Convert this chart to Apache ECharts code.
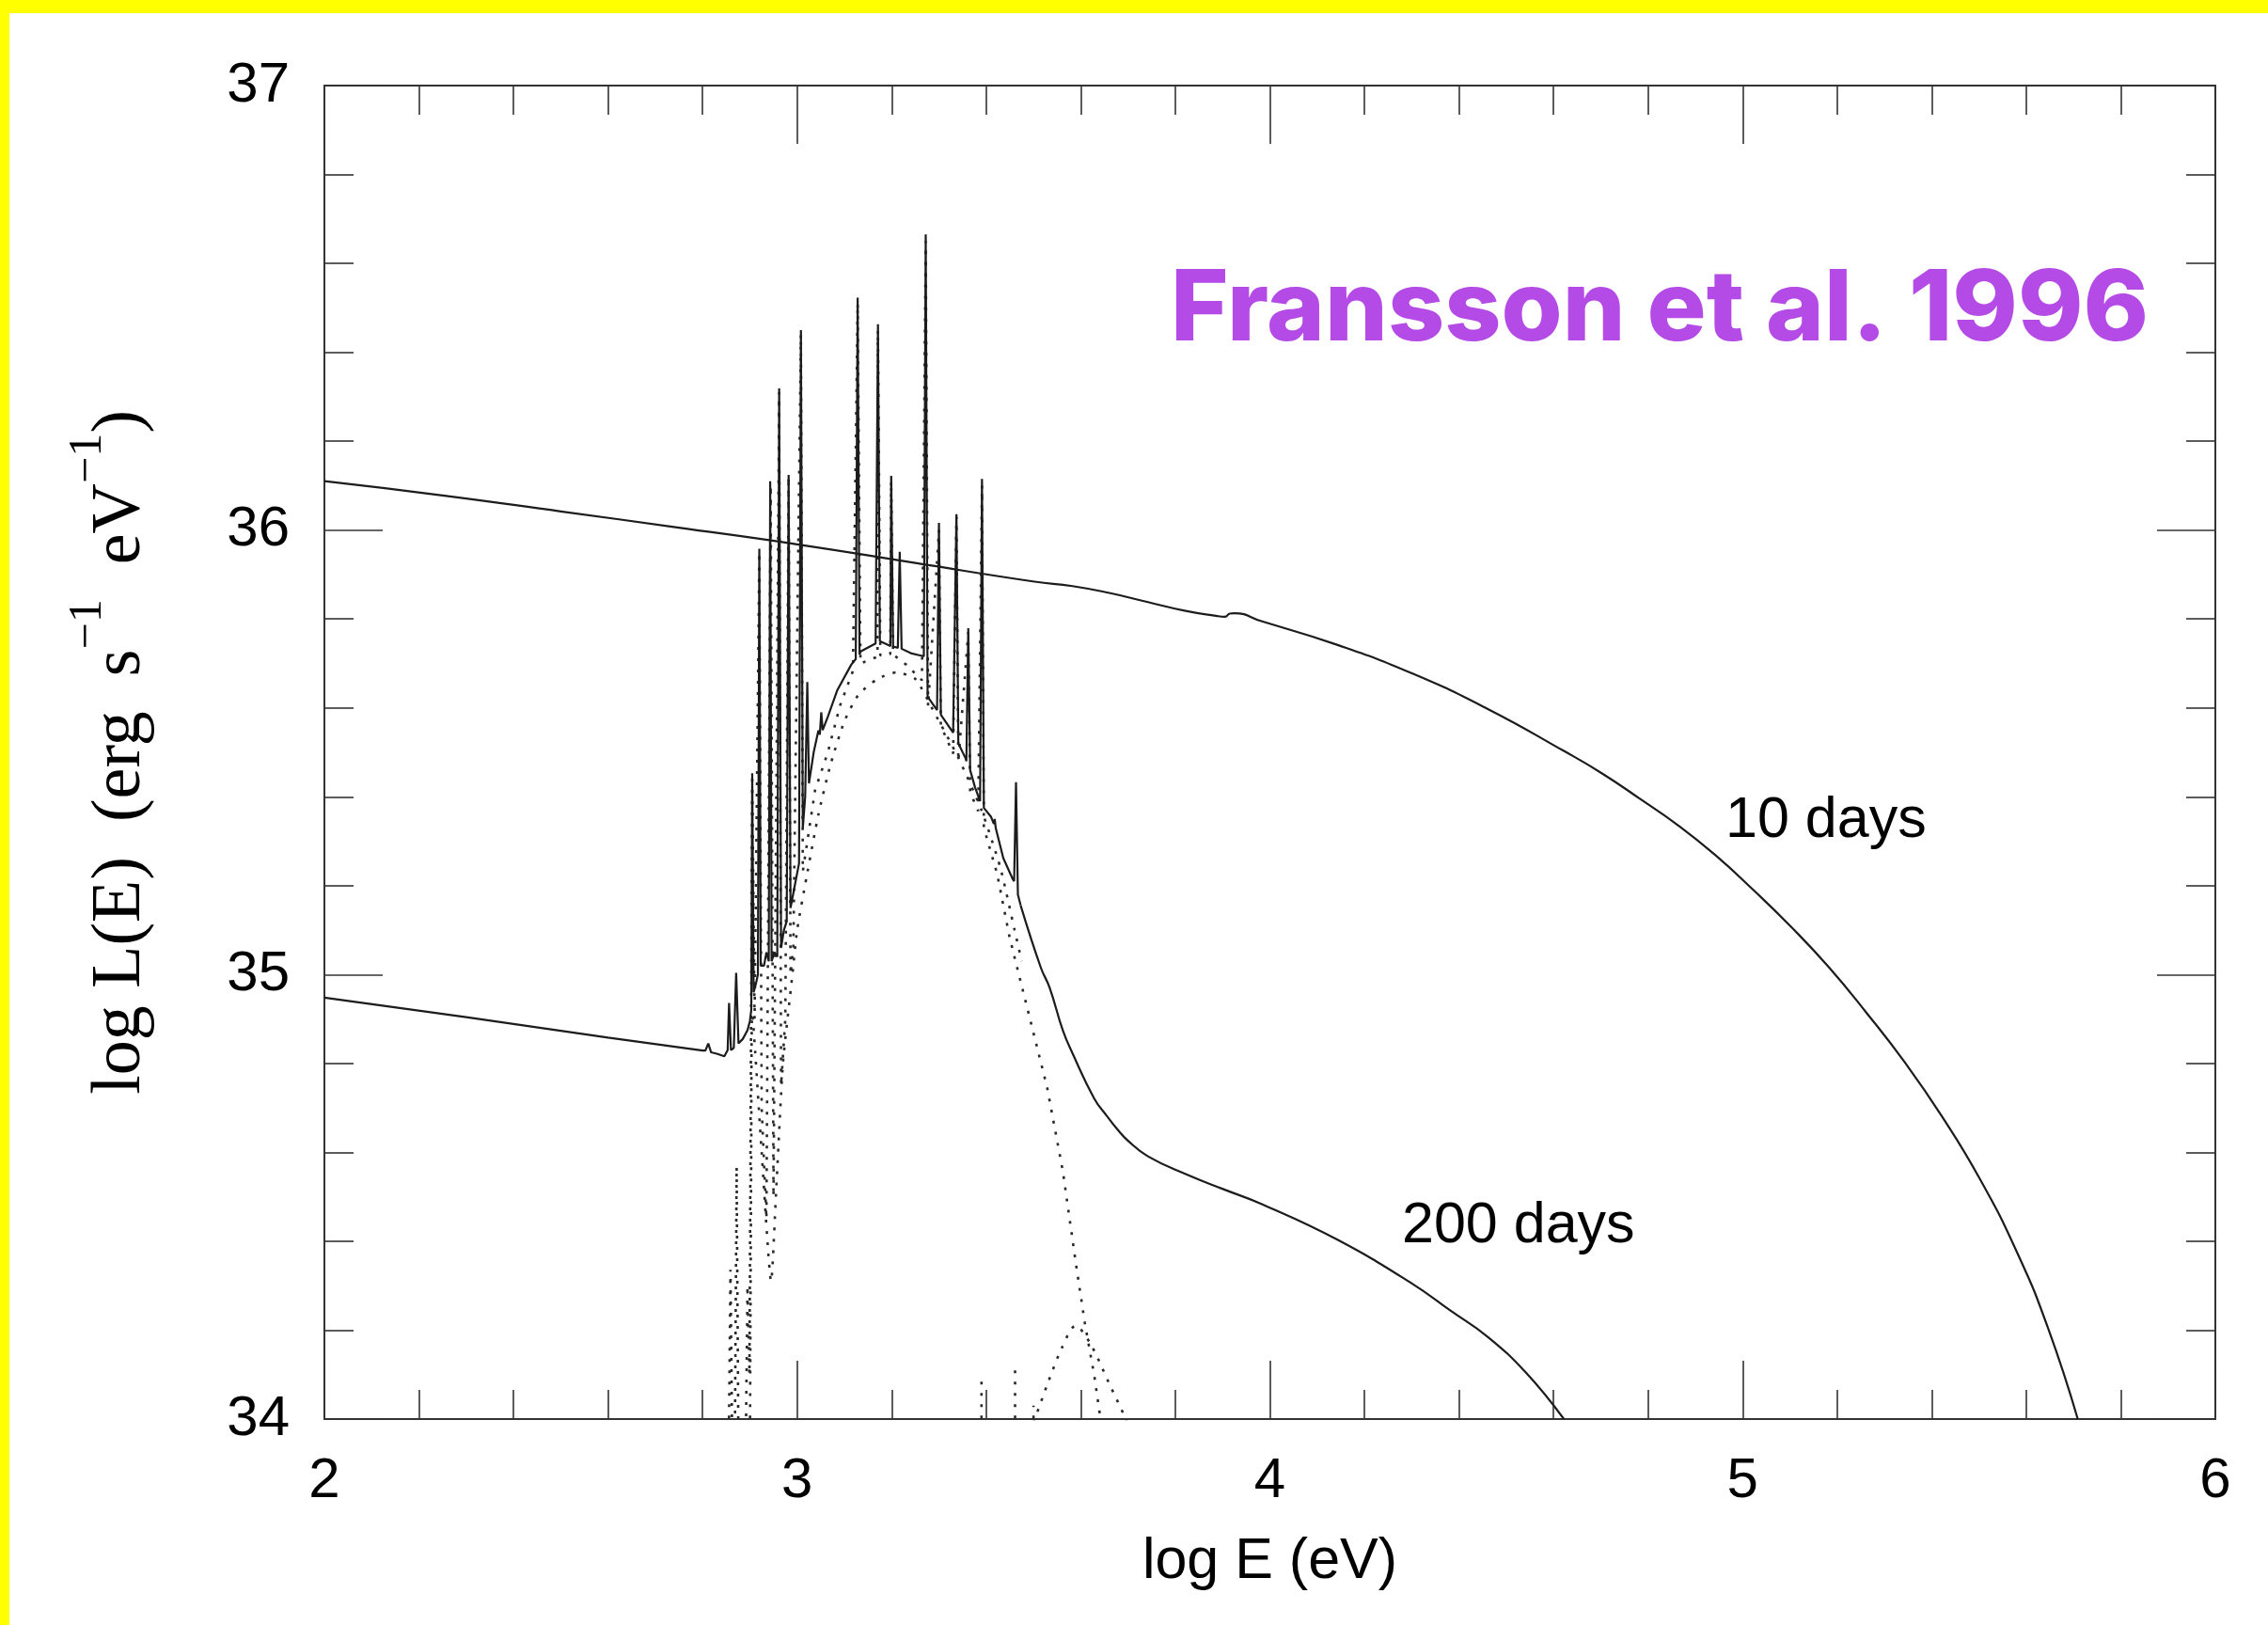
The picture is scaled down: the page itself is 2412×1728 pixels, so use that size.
<!DOCTYPE html>
<html>
<head>
<meta charset="utf-8">
<script src="https://cdn.jsdelivr.net/npm/echarts@6/dist/echarts.min.js"></script>
<style>
html,body{margin:0;padding:0;background:#fff;}
#c{width:2412px;height:1728px;}
</style>
</head>
<body>
<div id="c"></div>
<script>
// ---- axis ranges / tick labels ----
const xRange = [2, 6];
const yRange = [34, 37];
const xTickLabels = ['2', '3', '4', '5', '6'];
const yTickLabels = ['34', '35', '36', '37'];

// ---- texts ----
const titleText = 'Fransson et al. 1996';
const curveLabels = ['10 days', '200 days'];

// ---- 10 days spectrum (solid) ----
const days10 = [
  [2.0,36.11],[2.25,36.078],[2.5,36.042],[2.746,36.006],[3.0,35.968],[3.25,35.926],
  [3.502,35.884],[3.5825,35.874],[3.6625,35.858],[3.742,35.838],[3.822,35.818],
  [3.886,35.807],[3.905,35.805],[3.915,35.812],[3.925,35.813],[3.982,35.795],
  [4.142,35.742],[4.302,35.677],[4.462,35.597],[4.622,35.503],[4.702,35.453],
  [4.782,35.396],[4.862,35.337],[4.942,35.269],[5.022,35.191],[5.102,35.108],
  [5.182,35.017],[5.262,34.914],[5.342,34.804],[5.421,34.682],[5.502,34.54],
  [5.581,34.374],[5.646,34.205],[5.709,34.0]
];

// ---- 200 days spectrum (solid, with emission lines) ----
const days200 = [
  [2.0,34.948],[2.3,34.904],[2.6,34.858],[2.80,34.829],[2.806,34.829],[2.812,34.845],[2.818,34.825],
  [2.83,34.822],[2.846,34.816],
  [2.853,34.83],[2.856,34.936],[2.860,34.83],
  [2.866,34.835],[2.871,35.004],[2.876,34.845],
  [2.885,34.855],[2.895,34.875],[2.900,34.895],
  [2.903,34.92],[2.905,35.453],[2.908,34.96],
  [2.913,34.98],[2.917,35.0],[2.920,35.958],[2.923,35.02],
  [2.93,35.02],[2.935,35.05],[2.940,35.03],[2.943,36.110],[2.946,35.03],
  [2.952,35.05],[2.958,35.04],[2.962,36.319],[2.966,35.06],
  [2.972,35.10],[2.978,35.12],[2.982,36.124],[2.986,35.15],
  [2.995,35.20],[3.004,35.25],[3.008,36.450],[3.012,35.33],
  [3.017,35.40],[3.0215,35.658],[3.025,35.43],
  [3.035,35.50],[3.045,35.549],[3.048,35.54],[3.051,35.59],[3.054,35.55],[3.065,35.58],
  [3.0846,35.639],[3.1144,35.697],[3.124,35.71],[3.128,36.523],[3.132,35.72],[3.1343,35.727],
  [3.166,35.745],[3.171,36.463],[3.175,35.75],[3.1973,35.739],[3.199,36.122],[3.203,35.738],
  [3.213,35.735],[3.217,35.951],[3.221,35.733],[3.2404,35.723],[3.2603,35.718],[3.268,35.716],
  [3.272,36.665],[3.276,35.625],[3.277,35.621],
  [3.296,35.595],[3.300,36.016],[3.304,35.585],[3.3068,35.58],[3.33,35.544],[3.333,35.54],
  [3.337,36.036],[3.341,35.52],[3.3565,35.486],[3.358,35.48],[3.362,35.779],[3.366,35.46],
  [3.3764,35.421],[3.387,35.39],[3.391,36.115],[3.395,35.375],[3.3963,35.374],[3.41,35.355],
  [3.4162,35.339],[3.418,35.35],[3.42,35.33],[3.4361,35.262],[3.456,35.215],[3.459,35.21],
  [3.463,35.433],[3.467,35.18],[3.4727,35.156],[3.5157,35.015],[3.534,34.971],[3.5622,34.874],
  [3.582,34.824],[3.6285,34.721],[3.655,34.682],[3.678,34.651],[3.70,34.626],[3.742,34.591],
  [3.822,34.551],[3.902,34.517],[3.982,34.484],[4.142,34.404],[4.302,34.304],[4.382,34.244],
  [4.462,34.184],[4.542,34.104],[4.622,34.0]
];
// x where the 200-day continuum becomes a smooth line (no more lines)
const smoothFrom200 = 3.4727;

// ---- dotted components ----
const dotA = [
  [2.855,33.9],[2.859,34.336],[2.863,33.9],
  [2.868,33.9],[2.872,34.568],[2.876,33.9],
  [2.891,33.9],[2.895,34.30],[2.899,34.1],[2.905,35.45],[2.91,34.9],[2.92,35.95],[2.925,34.7],
  [2.935,34.45],[2.944,36.10],[2.95,34.5],[2.962,36.31],[2.966,34.75],[2.975,34.90],
  [2.982,36.12],[2.986,35.0],[2.992,35.063],[3.008,36.44],[3.012,35.232],[3.038,35.415],
  [3.065,35.5],[3.091,35.606],[3.118,35.683],[3.128,36.51],[3.134,35.70],[3.17,35.715],
  [3.171,36.45],[3.176,35.718],[3.197,35.721],[3.199,36.11],[3.203,35.72],[3.231,35.697],
  [3.264,35.662],[3.272,36.65],[3.277,35.603],[3.300,36.0],[3.304,35.56],[3.330,35.497],
  [3.337,36.03],[3.341,35.48],[3.362,35.77],[3.366,35.41],[3.383,35.368],[3.391,36.10],
  [3.395,35.33],[3.423,35.227],[3.449,35.086],[3.4627,35.027],[3.4959,34.886],[3.529,34.745],
  [3.5622,34.557],[3.5887,34.357],[3.6086,34.216],[3.6285,34.098],[3.6418,34.0],[3.65,33.9]
];
const dotB = [
  [2.90,33.9],[2.903,34.6],[2.905,34.91],[2.925,34.6],[2.945,34.31],[2.955,34.5],[2.97,34.8],
  [2.99,35.0],[3.0,35.1],[3.02,35.22],[3.045,35.36],[3.07,35.47],[3.10,35.57],[3.13,35.63],
  [3.17,35.665],[3.21,35.68],[3.25,35.665],[3.29,35.59],[3.34,35.49],[3.39,35.37],
  [3.43,35.24],[3.46,35.10],[3.475,35.03]
];
const dotC = [
  [3.49,33.97],[3.5025,34.0],[3.53,34.08],[3.56,34.16],[3.589,34.21],[3.62,34.17],
  [3.66,34.08],[3.695,34.0],[3.70,33.98]
];
const dotSpikes = [
  [[3.39,33.9],[3.39,34.087]],
  [[3.461,33.9],[3.461,34.116]],
  [[3.50,33.9],[3.50,34.03]]
];

const ink = '#1c1c1c';
const solidStyle = {color: ink, width: 2.2};
const dotStyle = {color: '#2a2a2a', width: 2.6, type: [3, 9]};

function axisCommon(showLabels) {
  return {
    type: 'value',
    interval: 1,
    axisLine: {show: true, onZero: false, lineStyle: {color: '#333', width: 2}},
    axisTick: {show: true, inside: true, length: 62, lineStyle: {color: '#333', width: 1.6}},
    minorTick: {show: true, splitNumber: 5, length: 31, lineStyle: {color: '#333', width: 1.6}},
    splitLine: {show: false},
    minorSplitLine: {show: false},
    axisLabel: {show: showLabels, fontSize: 60, color: '#000', fontFamily: 'Liberation Sans, Arial, sans-serif'}
  };
}

const xBottom = Object.assign(axisCommon(true), {
  min: xRange[0], max: xRange[1], position: 'bottom',
  name: 'log E (eV)', nameLocation: 'middle', nameGap: 122,
  nameTextStyle: {fontSize: 61, color: '#000', fontFamily: 'Liberation Sans, Arial, sans-serif'}
});
xBottom.axisLabel.margin = 36;
xBottom.axisLabel.formatter = v => xTickLabels[Math.round(v - xRange[0])];

const xTop = Object.assign(axisCommon(false), {min: xRange[0], max: xRange[1], position: 'top'});

const yLeft = Object.assign(axisCommon(true), {
  min: yRange[0], max: yRange[1], position: 'left',
  name: '{m|log L(E)  (erg  s}{s|−1}{m|  eV}{s|−1}{m|)}',
  nameLocation: 'middle', nameRotate: 90, nameGap: 156,
  nameTextStyle: {
    rich: {
      m: {fontSize: 74, lineHeight: 120, fontFamily: 'Liberation Serif, Times New Roman, serif', color: '#000'},
      s: {fontSize: 50, lineHeight: 50, verticalAlign: 'top', fontFamily: 'Liberation Serif, Times New Roman, serif', color: '#000'}
    }
  }
});
yLeft.axisLabel.margin = 37;
yLeft.axisLabel.formatter = v => yTickLabels[Math.round(v - yRange[0])];

const yRight = Object.assign(axisCommon(false), {min: yRange[0], max: yRange[1], position: 'right'});

const days200Lines = days200.filter(p => p[0] <= smoothFrom200);
const days200Tail = days200.filter(p => p[0] >= smoothFrom200);

const series = [
  {name: curveLabels[0], type: 'line', data: days10, showSymbol: false, smooth: 0.5, lineStyle: solidStyle, clip: true, z: 3},
  {name: curveLabels[1], type: 'line', data: days200Lines, showSymbol: false, lineStyle: solidStyle, clip: true, z: 3},
  {name: curveLabels[1] + ' tail', type: 'line', data: days200Tail, showSymbol: false, smooth: 0.45, lineStyle: solidStyle, clip: true, z: 3},
  {type: 'line', data: dotA, showSymbol: false, lineStyle: dotStyle, clip: true, z: 2},
  {type: 'line', data: dotB, showSymbol: false, smooth: 0.2, lineStyle: dotStyle, clip: true, z: 2},
  {type: 'line', data: dotC, showSymbol: false, smooth: 0.3, lineStyle: dotStyle, clip: true, z: 2}
].concat(dotSpikes.map(seg => ({type: 'line', data: seg, showSymbol: false, lineStyle: dotStyle, clip: true, z: 2})));

const chart = echarts.init(document.getElementById('c'), null, {renderer: 'canvas'});
chart.setOption({
  animation: false,
  backgroundColor: '#ffffff',
  grid: {left: 345, right: 56, top: 91, bottom: 219, containLabel: false, outerBoundsMode: 'none'},
  xAxis: [xBottom, xTop],
  yAxis: [yLeft, yRight],
  series: series,
  graphic: [
    {type: 'rect', shape: {x: 0, y: 0, width: 2412, height: 14}, style: {fill: '#ffff00'}, z: 100},
    {type: 'rect', shape: {x: 0, y: 0, width: 10, height: 1728}, style: {fill: '#ffff00'}, z: 100},
    {type: 'text', x: 1245, y: 331, scaleX: 1.012, z: 100, style: {
      text: titleText, fill: '#b44be6', fontSize: 104, fontWeight: 800,
      fontFamily: 'Inter, Lato, sans-serif', textAlign: 'left', verticalAlign: 'middle'}},
    {type: 'text', x: 1835, y: 873, z: 100, style: {
      text: curveLabels[0], fill: '#000', fontSize: 61,
      fontFamily: 'Liberation Sans, Arial, sans-serif', textAlign: 'left', verticalAlign: 'middle'}},
    {type: 'text', x: 1491, y: 1304, z: 100, style: {
      text: curveLabels[1], fill: '#000', fontSize: 61,
      fontFamily: 'Liberation Sans, Arial, sans-serif', textAlign: 'left', verticalAlign: 'middle'}}
  ]
});
</script>
</body>
</html>
